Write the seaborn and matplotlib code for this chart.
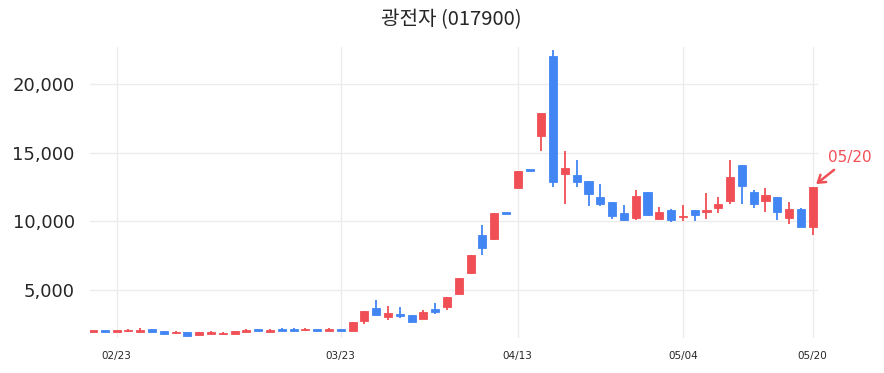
import pandas as pd
import numpy as np
import matplotlib
matplotlib.use("Agg")
import matplotlib.pyplot as plt
import seaborn as sns

# daily OHLC (trading-day index 0..61)
opens = [1980, 2010, 1990, 2030, 2010, 2200, 2050, 1870, 1980, 1770,
         1860, 1810, 1860, 1960, 2150, 2010, 2220, 2220, 2100, 2200,
         2030, 2200, 2050, 2775, 3745, 3068, 3310, 3190, 2920, 3670,
         3790, 4760, 6250, 8985, 8700, 10570, 12413, 13700, 16230, 22030,
         13455, 13400, 12950, 11760, 11400, 10600, 10240, 12120, 10150, 10800,
         10300, 10800, 10720, 10960, 11450, 14060, 12120, 11450, 11760, 10240,
         10890, 9565]
highs = [2010, 2010, 2060, 2200, 2250, 2200, 2050, 2020, 1980, 1990,
         2030, 1940, 2060, 2200, 2200, 2200, 2230, 2230, 2260, 2210,
         2280, 2210, 2700, 3480, 4275, 3890, 3790, 3200, 3550, 4080,
         4514, 5890, 7536, 9760, 10600, 10570, 13695, 13700, 17850, 22440,
         15140, 14470, 12950, 12730, 11400, 11210, 12250, 12150, 11040, 10870,
         11210, 10800, 12080, 11760, 14470, 14100, 12250, 12440, 11800, 11380,
         10950, 12490]
lows = [1980, 1980, 1970, 2000, 2000, 1960, 1830, 1860, 1710, 1760,
        1820, 1790, 1850, 1950, 2040, 1960, 2020, 2020, 2060, 2020,
        2020, 2040, 2040, 2585, 3116, 2875, 2990, 2700, 2910, 3260,
        3600, 4710, 6180, 7590, 8620, 10550, 12413, 13680, 15140, 12490,
        11230, 12490, 11090, 11090, 10200, 10020, 10140, 10430, 10070, 9950,
        10050, 10020, 10200, 10600, 11230, 11230, 10990, 10670, 10120, 9830,
        9565, 8985]
closes = [2010, 1990, 2020, 2120, 2150, 2010, 1840, 1980, 1720, 1980,
          1980, 1930, 2050, 2120, 2050, 2120, 2030, 2030, 2200, 2030,
          2200, 2050, 2680, 3478, 3188, 3357, 3116, 2705, 3405, 3430,
          4514, 5890, 7536, 8065, 10600, 10550, 13695, 13680, 17850, 12850,
          13890, 12850, 12000, 11230, 10430, 10140, 11810, 10500, 10670, 10070,
          10430, 10450, 10820, 11230, 13260, 12560, 11230, 11930, 10670, 10870,
          9565, 12490]

tick_pos = [2, 21, 36, 50, 61]
tick_labels = ["02/23", "03/23", "04/13", "05/04", "05/20"]

title = "광전자 (017900)"
last_label = "05/20"

up_color = "#ef4f55"
down_color = "#4286f4"

df = pd.DataFrame({"open": opens, "high": highs, "low": lows, "close": closes})
df["idx"] = np.arange(len(df))
df["up"] = df["close"] >= df["open"]
df["color"] = np.where(df["up"], up_color, down_color)
df["bottom"] = df[["open", "close"]].min(axis=1)
df["height"] = (df["close"] - df["open"]).abs().clip(lower=120)

sns.set_style("white")
plt.rcParams["font.family"] = ["DejaVu Sans"]

fig = plt.figure(figsize=(8.84, 3.73), dpi=100)
ax = fig.add_axes([90 / 884, 1 - 338 / 373, (818 - 90) / 884, (338 - 47) / 373])

# wicks then bodies
ax.vlines(df["idx"], df["low"], df["high"], colors=df["color"], linewidth=1.3, zorder=2)
ax.bar(df["idx"], df["height"], bottom=df["bottom"], width=0.68,
       color=df["color"], edgecolor=df["color"], linewidth=0.6, zorder=3)

ax.set_xlim(-0.25, 61.45)
ax.set_ylim(1540, 22660)

ax.set_xticks(tick_pos)
ax.set_xticklabels(tick_labels, fontsize=7.5)
ax.set_yticks([5000, 10000, 15000, 20000])
ax.yaxis.set_major_formatter(matplotlib.ticker.FuncFormatter(lambda v, p: f"{v:,.0f}"))
ax.tick_params(axis="y", labelsize=13, length=5, width=1, color="#333333", pad=6)
ax.tick_params(axis="x", length=4, width=1.2, color="#222222", pad=5)

ax.grid(True, color="#ececec", linewidth=1)
ax.set_axisbelow(True)
for s in ax.spines.values():
    s.set_visible(False)

ax.annotate(last_label, xy=(61.2, 12650), xytext=(62.3, 14650),
            fontsize=11, color=up_color, ha="left", va="center",
            annotation_clip=False,
            arrowprops=dict(arrowstyle="->, head_length=0.45, head_width=0.3",
                            color=up_color, lw=1.8, shrinkA=2, shrinkB=1))

fig.suptitle(title, x=0.51, y=0.975, fontsize=14.5,
             family=["Noto Sans CJK KR", "DejaVu Sans"])

fig.savefig("out.png", dpi=100)
